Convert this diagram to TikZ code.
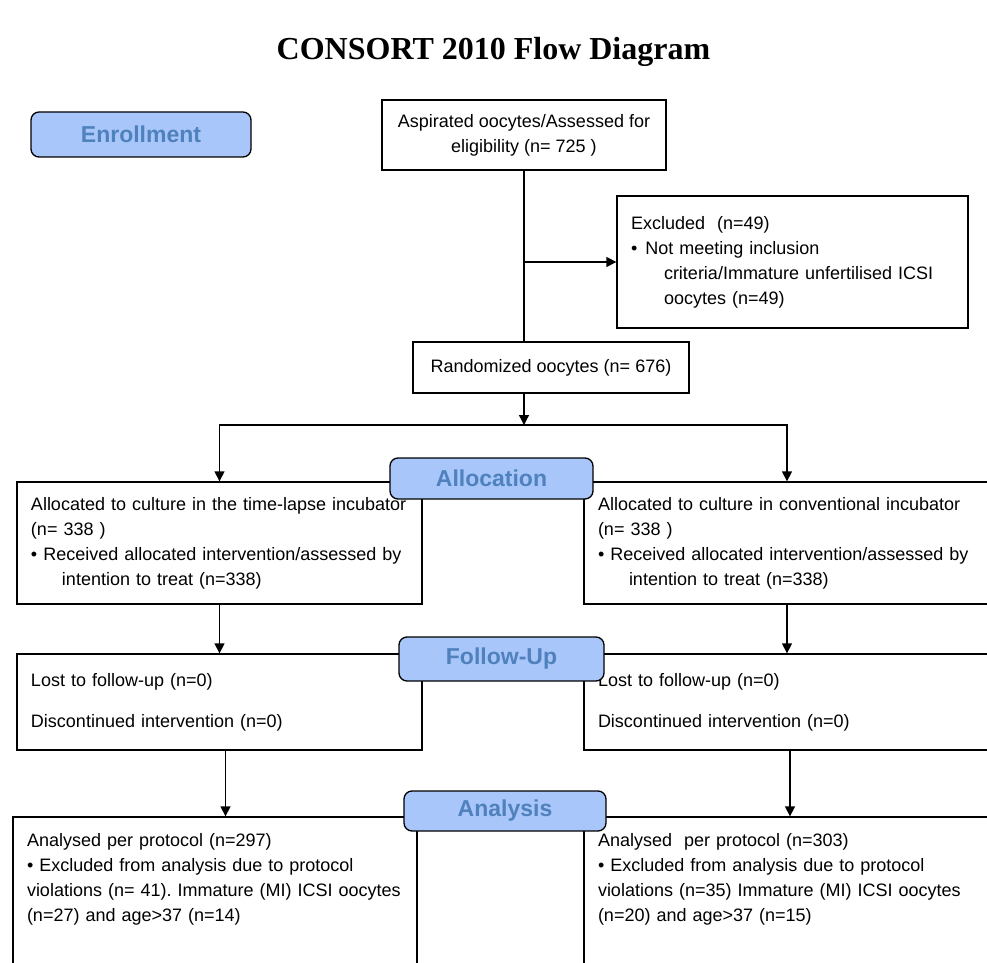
\documentclass[tikz,border=0pt]{standalone}
\usepackage{fontspec}
\setmainfont{Liberation Sans}
\newfontfamily\titlefont{Liberation Serif}
\usetikzlibrary{arrows.meta}
\definecolor{phasefill}{RGB}{168,198,250}
\definecolor{phasetext}{RGB}{79,129,189}
\frenchspacing

\begin{document}
\begin{tikzpicture}[
    x=0.5pt, y=-0.5pt, line width=0.65pt,
    box/.style={rectangle, draw, fill=white, inner xsep=7pt, inner ysep=3pt, font=\fontsize{9}{12.5}\selectfont},
    sidebox/.style={box, text width=#1, align=left},
    boxtext/.style={anchor=north west, inner xsep=7pt, inner ysep=8pt, text width=#1, align=left, font=\fontsize{9}{12.5}\selectfont},
    phase/.style={rectangle, draw, rounded corners=4pt, fill=phasefill, text=phasetext, font=\fontsize{11.5}{13}\selectfont\bfseries},
    arrow/.style={-{Triangle[length=5pt,width=5pt]}}
]
    \clip (0,0) rectangle (987,963);

    \node[font=\titlefont\fontsize{16}{19}\selectfont\bfseries] (title) at (493.5,52) {CONSORT 2010 Flow Diagram};

    % enrollment
    \node[phase, minimum width=110pt, minimum height=22.5pt] (enroll) at (141,134.5) {Enrollment};
    \node[box, align=center, minimum width=142pt, minimum height=35pt] (aspirated) at (524,135) {Aspirated oocytes/Assessed for\\eligibility (n= 725 )};
    \node[sidebox=161.5pt, minimum height=66pt] (excluded) at (792.5,262) {Excluded\ \ (n=49)\\\textbullet\hspace{4pt}Not meeting inclusion\\\hspace*{16.5pt}criteria/Immature unfertilised ICSI\\\hspace*{16.5pt}oocytes (n=49)};
    \node[box, minimum width=138pt, minimum height=25.5pt] (random) at (551,367.5) {Randomized oocytes (n= 676)};
    \coordinate (split) at (524,425);

    % allocation
    \node[sidebox=188.5pt, minimum height=61pt] (allocL) at (219.5,543) {Allocated to culture in the time-lapse incubator\\(n= 338 )\\\textbullet\ Received allocated intervention/assessed by\\\hspace*{15.5pt}intention to treat (n=338)};
    \node[sidebox=189pt, minimum height=61pt] (allocR) at (787,543) {Allocated to culture in conventional incubator\\(n= 338 )\\\textbullet\ Received allocated intervention/assessed by\\\hspace*{15.5pt}intention to treat (n=338)};

    % follow-up
    \node[sidebox=188.5pt, minimum height=48pt] (followL) at (219.5,702) {Lost to follow-up (n=0)\\[8pt]Discontinued intervention (n=0)};
    \node[sidebox=189pt, minimum height=48pt] (followR) at (787,702) {Lost to follow-up (n=0)\\[8pt]Discontinued intervention (n=0)};

    % analysis
    \node[box, minimum width=202pt, minimum height=91.5pt] (analysisL) at (215,908.5) {};
    \node[box, minimum width=203pt, minimum height=91.5pt] (analysisR) at (787,908.5) {};
    \node[boxtext=192pt] (analysisLtext) at (analysisL.north west) {Analysed per protocol (n=297)\\\textbullet\ Excluded from analysis due to protocol\\violations (n= 41). Immature (MI) ICSI oocytes\\(n=27) and age>37 (n=14)};
    \node[boxtext=192pt] (analysisRtext) at (analysisR.north west) {Analysed\ \ per protocol (n=303)\\\textbullet\ Excluded from analysis due to protocol\\violations (n=35) Immature (MI) ICSI oocytes\\(n=20) and age>37 (n=15)};

    \draw (aspirated.south) -- (aspirated.south |- random.north);
    \draw[arrow] (aspirated.south |- excluded.west) -- (excluded.west);
    \draw[arrow] (aspirated.south |- random.south) -- (split);
    \draw[arrow] (split) -| (allocL.north);
    \draw[arrow] (split) -| (allocR.north);
    \draw[arrow] (allocL.south) -- (followL.north);
    \draw[arrow] (allocR.south) -- (followR.north);
    \draw[arrow] ([xshift=3pt]followL.south) -- ([xshift=3pt]followL.south |- analysisL.north);
    \draw[arrow] ([xshift=1.5pt]followR.south) -- ([xshift=1.5pt]followR.south |- analysisR.north);

    % phase labels
    \node[phase, minimum width=101.5pt, minimum height=20.5pt] (allocation) at (491.5,478.5) {Allocation};
    \node[phase, minimum width=102.5pt, minimum height=22pt] (followup) at (501.5,659) {Follow-Up};
    \node[phase, minimum width=101pt, minimum height=20pt] (analysis) at (505,811) {Analysis};
\end{tikzpicture}
\end{document}
